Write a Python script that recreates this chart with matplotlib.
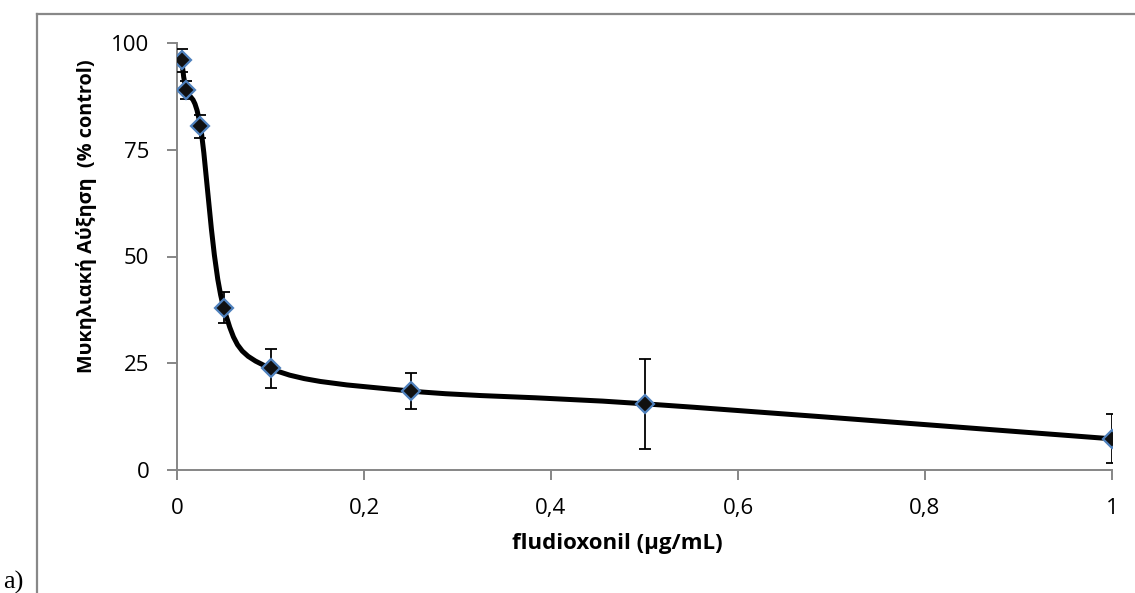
import numpy as np
import matplotlib
matplotlib.use("Agg")
import matplotlib.pyplot as plt
from matplotlib.path import Path
from matplotlib.patches import PathPatch
from matplotlib.lines import Line2D
from matplotlib.ticker import FuncFormatter

# data
conc = [0.005, 0.01, 0.025, 0.05, 0.1, 0.25, 0.5, 1.0]
growth = [96.0, 89.0, 80.5, 38.0, 23.8, 18.5, 15.5, 7.3]
err = [2.7, 2.0, 2.7, 3.6, 4.6, 4.3, 10.5, 5.7]

x_ticks = [0, 0.2, 0.4, 0.6, 0.8, 1.0]
y_ticks = [0, 25, 50, 75, 100]

plt.rcParams["font.family"] = ["Open Sans", "DejaVu Sans"]

W, H = 1135, 593
fig = plt.figure(figsize=(W / 100, H / 100), dpi=100)
ax = fig.add_axes([177 / W, 1 - 470 / H, (1112 - 177) / W, (470 - 43) / H])

# Excel-style smoothed line: cubic bezier through the points
pts = np.column_stack([conc, growth])
n = len(pts)
verts = [pts[0]]
codes = [Path.MOVETO]
for i in range(n - 1):
    p_prev = pts[max(i - 1, 0)]
    p0 = pts[i]
    p1 = pts[i + 1]
    p_next = pts[min(i + 2, n - 1)]
    c1 = p0 + (p1 - p_prev) / 6
    c2 = p1 - (p_next - p0) / 6
    verts += [c1, c2, p1]
    codes += [Path.CURVE4] * 3
ax.add_patch(PathPatch(Path(verts, codes), fill=False, ec="black", lw=3.6,
                       capstyle="round", joinstyle="round", zorder=2))

ax.errorbar(conc, growth, yerr=err, fmt="none", ecolor="black", elinewidth=1.3,
            capsize=4.5, capthick=1.3, zorder=3)
ax.plot(conc, growth, linestyle="none", marker="D", ms=9.5, mfc="#111111",
        mec="#4F81BD", mew=1.6, zorder=4)

ax.set_xlim(0, 1)
ax.set_ylim(0, 100)
ax.set_xticks(x_ticks)
ax.set_yticks(y_ticks)
ax.xaxis.set_major_formatter(FuncFormatter(lambda v, p: f"{v:g}".replace(".", ",")))

for s in ["top", "right"]:
    ax.spines[s].set_visible(False)
for s in ["left", "bottom"]:
    ax.spines[s].set_color("#868686")
    ax.spines[s].set_linewidth(1.4)
ax.tick_params(direction="out", length=7, width=1.4, color="#868686",
               labelsize=16, labelcolor="black")
ax.tick_params(axis="y", pad=13)
ax.tick_params(axis="x", pad=13)

fig.text(617 / W, 1 - 544 / H, "fludioxonil (μg/mL)", ha="center", va="center",
         fontsize=16, fontweight="bold")
fig.text(87 / W, 1 - 216 / H, "Μυκηλιακή Αύξηση  (% control)", ha="center",
         va="center", rotation=90, fontsize=14.3, fontweight="bold")

# outer chart frame (only top and left edges visible)
fig.add_artist(Line2D([37 / W, 37 / W], [0, 1 - 14 / H], transform=fig.transFigure,
                      color="#888888", lw=1.6))
fig.add_artist(Line2D([37 / W, 1], [1 - 14 / H, 1 - 14 / H], transform=fig.transFigure,
                      color="#888888", lw=1.6))

fig.text(3 / W, 4 / H, "a)", family=["Liberation Serif"], fontsize=19,
         ha="left", va="baseline")

fig.savefig("out.png", dpi=100)
